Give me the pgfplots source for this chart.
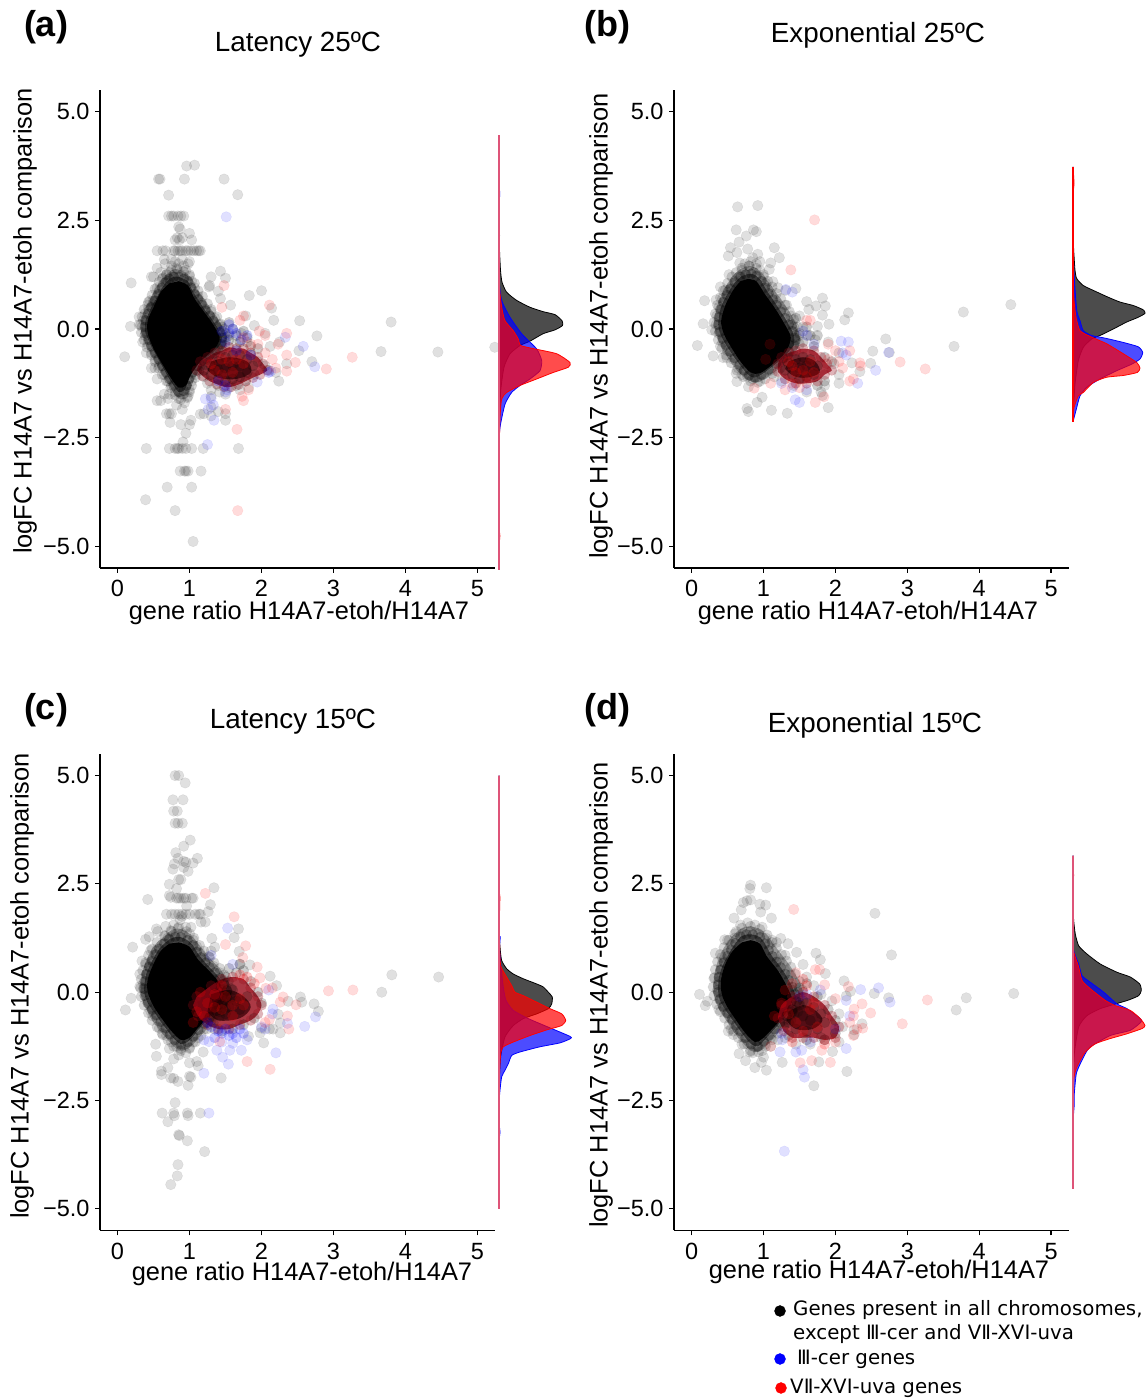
\documentclass[border=0pt]{standalone}
\usepackage{fontspec}
\setmainfont{Liberation Sans}
\newfontfamily\legfont{DejaVu Sans}
\usepackage{pgfplots}
\pgfplotsset{compat=1.18}
\definecolor{baseln}{RGB}{222,84,120}
\definecolor{clusterdark}{RGB}{58,0,6}
\definecolor{clustermid}{RGB}{150,8,22}

\pgfplotsset{
  panel/.style={
    scale only axis, anchor=south west, clip=true,
    axis x line*=bottom, axis y line*=left,
    axis line style={-, line width=1.5pt, black},
    xtick={0,1,2,3,4,5},
    ytick={-5,-2.5,0,2.5,5},
    yticklabels={−5.0,−2.5,0.0,2.5,5.0},
    xticklabels={0,1,2,3,4,5},
    minor tick num=0,
    major tick length=5pt,
    tick align=outside,
    tick style={black, line width=1.2pt},
    ymin=-5.5, ymax=5.5,
    tick label style={font=\fontsize{23.5}{26}\selectfont},
    xticklabel style={yshift=-4pt},
    yticklabel style={xshift=-2pt},
  },
  dens/.style={
    scale only axis, anchor=south west, hide axis, clip=false,
    xmin=0, xmax=80, width=80pt, ymin=-5.5, ymax=5.5,
  },
  pt/.style n args={2}{only marks, mark=*, mark size=5.3pt, #1,
    mark options={fill=#1, fill opacity=#2, draw opacity=.07, line width=.5pt}},
  blk/.style={pt={black}{.12}},
  blkm/.style={pt={black}{.2}},
  blu/.style={pt={blue}{.12}},
  blum/.style={pt={blue}{.2}},
  rd/.style={pt={red}{.14}},
  rdm/.style={pt={red}{.22}},
  ring/.style n args={3}{draw=none, fill=#1, fill opacity=#2, smooth, tension=.5,
    mark=*, mark size=5.3pt,
    mark options={draw=#1, fill=#1, fill opacity=#3, draw opacity=.05, line width=.5pt}},
  ringm/.style={ring={black}{.3}{.16}},
  ringi/.style={ring={black}{.55}{.3}},
  ringr/.style={ring={clustermid}{.8}{.3}},
  core/.style={fill=black, draw=none, smooth, tension=.5, no marks},
  redcore/.style={fill=clusterdark, fill opacity=.75, draw=none, smooth, tension=.6, no marks},
  dblack/.style={fill=black, fill opacity=.7, draw=black, line width=.8pt, smooth, tension=.35, no marks},
  dblue/.style={fill=blue, fill opacity=.7, draw=blue, line width=.8pt, smooth, tension=.35, no marks},
  dred/.style={fill=red, fill opacity=.7, draw=red, line width=.8pt, smooth, tension=.35, no marks},
  dbase/.style={baseln, line width=1.8pt, no marks},
}

\begin{document}
\begin{tikzpicture}[x=1pt,y=1pt]
\path[use as bounding box] (0,0) rectangle (1148,1398);

% ---------- (a) Latency 25
\begin{axis}[panel, at={(100pt,830pt)}, width=395pt, height=478pt, xmin=-0.243, xmax=5.243]
\addplot[blk] coordinates {(0.10,-0.64)(0.18,0.06)(0.19,1.06)(0.39,-3.93)(0.80,-4.18)(1.05,-4.89)(0.69,-3.64)(1.03,-3.64)
 (0.40,-2.75)(0.72,-2.75)(0.80,-2.75)(0.83,-2.75)(0.85,-2.75)(0.90,-2.75)(0.95,-2.75)(1.03,-2.75)(1.19,-2.75)(1.68,-2.75)
 (0.87,-3.27)(0.93,-3.27)(0.95,-3.27)(0.98,-3.27)(1.16,-3.27)(0.91,-2.6)
 (0.96,3.75)(1.07,3.77)(0.57,3.45)(0.59,3.45)(0.93,3.45)(1.48,3.45)(0.71,3.08)(1.67,3.09)
 (0.71,2.6)(0.75,2.6)(0.78,2.6)(0.84,2.6)(0.88,2.6)(0.92,2.6)(0.85,2.35)(1.0,2.2)(0.87,2.3)(0.86,2.05)(0.8,2.05)(0.9,2.1)(1.03,2.05)(0.83,2.1)
 (0.55,1.8)(0.63,1.8)(0.67,1.8)(0.78,1.8)(0.8,1.8)(0.84,1.8)(0.87,1.8)(0.9,1.8)(0.95,1.8)(0.98,1.8)(1.02,1.8)(1.06,1.8)(1.1,1.8)(1.13,1.8)(1.15,1.8)
 (0.65,1.6)(0.66,1.5)(0.75,1.6)(0.8,1.55)(0.9,1.6)(1.0,1.55)
 (1.43,1.33)(1.3,1.2)(1.5,1.17)(1.28,1.0)(1.27,0.97)(1.4,0.87)(1.43,0.7)(1.57,0.55)(1.83,0.77)(2.0,0.88)(2.14,0.48)(2.17,0.2)(2.53,0.19)(2.77,-0.16)
 (1.9,0.08)(1.78,0.3)(3.8,0.16)(3.66,-0.52)(4.45,-0.53)(5.24,-0.42)(2.05,-0.1)(2.12,-0.4)(2.25,-0.3)(2.52,-0.5)(2.7,-0.75)(2.35,-0.8)(2.24,-1.2)(2.2,-1.0)
 (1.2,-1.95)(1.15,-1.96)(1.3,-1.8)(1.4,-1.9)(1.5,-1.95)(1.3,-2.0)(1.5,-2.1)(1.02,-2.1)(1.0,-2.2)(0.88,-2.2)(0.73,-2.15)(0.95,-2.4)(0.68,-1.95)(0.72,-1.95)(0.75,-1.95)
 (0.6,-1.65)(0.55,-1.65)(0.7,-1.6)(0.65,-1.5)(0.47,-0.9)(0.55,-1.15)(0.52,-0.9)(0.4,-0.55)(0.35,-0.3)(0.3,0.28)(0.3,0.1)(0.42,0.55)(0.5,0.55)(0.45,0.65)(0.55,0.95)(0.5,1.2)(0.55,1.4)(0.6,1.3)(0.47,1.2)
 (0.62,1.15)(0.68,1.25)(0.72,1.3)(0.78,1.2)(0.82,1.4)(0.88,1.25)(0.92,1.45)(0.95,1.35)(0.98,1.5)(1.0,1.25)(1.03,1.1)(0.75,1.45)(0.7,1.1)(0.85,1.5)
 (1.07,0.95)(1.12,0.75)(1.17,0.6)(1.22,0.45)(1.3,0.4)(1.35,0.25)(1.42,0.1)(1.46,-0.05)(1.48,-0.2)(1.45,-0.4)(1.35,-0.55)(1.25,-0.7)(1.15,-0.85)(1.08,-1.05)
 (1.03,-1.2)(1.0,-1.4)(0.98,-1.55)(0.93,-1.7)(0.9,-1.85)(0.85,-1.6)(0.82,-1.75)(0.8,-1.45)(0.75,-1.3)(0.72,-1.5)(0.87,-1.45)(0.95,-1.3)(0.7,-1.2)(0.65,-1.05)
 (0.58,-0.85)(0.52,-0.7)(0.47,-0.55)(0.42,-0.35)(0.38,-0.15)(0.34,0.05)(0.36,0.2)(0.38,0.35)(0.43,0.45)(0.5,0.65)(0.55,0.75)(0.58,0.9)(0.53,0.5)(0.4,-0.05)};
\addplot[ringm] coordinates {(0.68,1.25)(0.75,1.35)(0.83,1.38)(0.92,1.32)(1.0,1.22)(1.07,1.05)(1.12,0.88)(1.18,0.75)(1.25,0.58)(1.3,0.45)(1.38,0.28)(1.43,0.12)(1.48,0)(1.52,-0.18)(1.5,-0.38)(1.42,-0.55)(1.32,-0.68)(1.22,-0.82)(1.13,-0.97)(1.08,-1.12)(1.03,-1.3)(1.0,-1.45)(0.97,-1.58)(0.88,-1.62)(0.8,-1.52)(0.74,-1.35)(0.68,-1.2)(0.62,-1.05)(0.57,-0.9)(0.52,-0.75)(0.47,-0.6)(0.41,-0.42)(0.37,-0.25)(0.33,-0.08)(0.32,0.1)(0.34,0.28)(0.37,0.45)(0.43,0.62)(0.48,0.78)(0.52,0.92)(0.58,1.08)(0.63,1.18)};
\addplot[ringi] coordinates {(0.72,1.15)(0.78,1.2)(0.85,1.2)(0.92,1.15)(0.98,1.1)(1.02,0.95)(1.07,0.8)(1.12,0.68)(1.17,0.55)(1.22,0.42)(1.28,0.3)(1.33,0.18)(1.38,0.05)(1.42,-0.08)(1.45,-0.2)(1.43,-0.35)(1.36,-0.48)(1.28,-0.6)(1.18,-0.72)(1.1,-0.85)(1.04,-1.0)(0.99,-1.15)(0.96,-1.3)(0.92,-1.42)(0.85,-1.45)(0.78,-1.3)(0.72,-1.15)(0.67,-1.0)(0.62,-0.85)(0.57,-0.7)(0.52,-0.55)(0.47,-0.4)(0.43,-0.25)(0.39,-0.1)(0.38,0.05)(0.39,0.2)(0.43,0.35)(0.47,0.5)(0.52,0.65)(0.57,0.8)(0.62,0.95)(0.67,1.07)};
\addplot[core] coordinates {(0.85,1.1)(0.98,1.0)(1.07,0.7)(1.2,0.4)(1.33,0.1)(1.42,-0.2)(1.35,-0.45)(1.15,-0.75)(1.02,-1.05)(0.95,-1.3)(0.85,-1.35)(0.75,-1.15)(0.62,-0.8)(0.5,-0.45)(0.42,-0.1)(0.42,0.2)(0.5,0.5)(0.6,0.85)(0.72,1.05)};
\addplot[blkm] coordinates {(1.45,0.05)(1.5,-0.1)(1.55,-0.25)(1.6,0)(1.65,-0.15)(1.7,-0.3)(1.75,-0.05)(1.8,-0.2)(1.45,-0.35)(1.55,0.15)(1.85,-0.4)(1.95,-0.45)(1.4,-0.45)};
\addplot[ringr] coordinates {(1.1,-0.95)(1.15,-0.75)(1.25,-0.65)(1.35,-0.55)(1.45,-0.5)(1.55,-0.42)(1.65,-0.45)(1.75,-0.45)(1.85,-0.55)(1.95,-0.65)(2.02,-0.8)(2.08,-0.95)(1.98,-1.05)(1.88,-1.12)(1.78,-1.2)(1.68,-1.28)(1.58,-1.33)(1.48,-1.33)(1.38,-1.27)(1.28,-1.2)(1.18,-1.08)};
\addplot[redcore] coordinates {(1.3,-0.75)(1.55,-0.65)(1.8,-0.75)(1.85,-1.0)(1.65,-1.15)(1.4,-1.12)(1.25,-0.95)};
\addplot[blkm] coordinates {(1.3,-0.85)(1.4,-0.75)(1.5,-0.65)(1.6,-0.6)(1.7,-0.6)(1.8,-0.7)(1.88,-0.85)(1.8,-1.0)(1.7,-1.1)(1.6,-1.15)(1.5,-1.2)(1.4,-1.15)(1.3,-1.05)(1.2,-0.95)(1.5,-0.9)(1.6,-0.85)(1.4,-0.95)(1.7,-0.85)};
\addplot[blk] coordinates {(1.45,-0.3)(1.55,-0.15)(1.65,-0.35)(1.72,-0.1)(1.8,-0.3)(1.85,-0.6)(1.95,-0.75)(2.05,-0.85)(2.1,-0.95)(1.9,-1.05)(1.78,-1.2)(1.65,-1.3)(1.55,-1.35)(1.4,-1.3)(1.25,-1.25)(1.3,-1.4)(1.42,-1.45)(1.2,-1.1)(1.1,-0.95)(1.5,-1.5)(1.3,-1.55)(1.7,-1.4)(1.82,-1.35)};
\addplot[blu] coordinates {(1.51,2.58)(2.33,-0.19)(2.58,-0.4)(2.74,-0.87)(2.13,-0.97)(1.94,-1.22)(1.22,-1.61)(1.3,-1.6)(1.26,-1.85)(1.33,-1.75)(1.34,-2.1)(1.25,-2.66)(1.5,-1.45)(1.52,-1.4)};
\addplot[blum] coordinates {(1.55,-0.1)(1.6,0.0)(1.72,-0.25)(1.8,-0.15)(1.45,-0.05)(1.65,-0.5)(1.4,-1.2)(1.85,-0.6)(2.1,-1.0)(1.5,-1.3)(1.55,0.1)(1.65,-0.1)(1.5,-0.3)};
\addplot[rd] coordinates {(1.48,1.0)(2.11,0.55)(1.45,0.5)(1.75,0.3)(1.7,0.2)(1.97,-0.05)(2.35,-0.1)(2.05,-0.15)(2.23,-0.35)(2.35,-0.6)(2.47,-0.77)(2.35,-0.97)(2.9,-0.92)(3.26,-0.65)(2.15,-0.7)(1.75,-1.65)(1.73,-1.55)(1.5,-1.85)(1.66,-2.31)(1.67,-4.18)(1.82,-1.4)(2.2,-0.9)(1.95,-0.35)(2.05,-0.55)(1.85,-0.35)(1.75,-0.2)};
\addplot[rdm] coordinates {(1.3,-0.8)(1.45,-0.7)(1.55,-0.75)(1.65,-0.7)(1.75,-0.8)(1.6,-1.0)(1.45,-1.05)(1.35,-0.95)};
\end{axis}
\begin{axis}[dens, at={(499pt,830pt)}, height=478pt]
\addplot[dblack] coordinates {(0,4.46)(0,2.4)(0.6,2.15)(0,1.95)(0.5,1.81)(1.5,1.35)(3,1.08)(7.5,0.85)(17.5,0.66)(31,0.50)(44,0.40)(56,0.33)(63,0.19)(63.5,0.08)(56,-0.02)(44,-0.11)(31,-0.28)(21,-0.38)(11,-0.57)(5,-0.88)(1.7,-1.42)(0.3,-2.19)(0,-2.80)(0,-5.54)};
\addplot[dblue] coordinates {(0,4.46)(0,3.4)(0.8,3.1)(0,2.8)(0,1.2)(2.7,0.66)(11,0.27)(22.7,-0.11)(37.7,-0.46)(42.7,-0.73)(41,-0.96)(31,-1.15)(21,-1.30)(12.7,-1.46)(6,-1.73)(1,-2.27)(0,-2.8)(0,-5.54)};
\addplot[dred] coordinates {(0,4.46)(0,1.2)(0.7,0.89)(2.7,0.50)(6,0.19)(14.3,-0.04)(19.3,-0.23)(21.7,-0.38)(36,-0.46)(57.7,-0.57)(71,-0.77)(69.3,-0.88)(54.3,-1.0)(37.7,-1.15)(21,-1.30)(7.7,-1.46)(2.7,-1.61)(1,-2.03)(0.3,-2.73)(0,-3.2)(0,-4.5)(0.9,-4.76)(0,-5.0)(0,-5.54)};
\addplot[dbase] coordinates {(0,4.46)(0,-5.54)};
\end{axis}

% ---------- (b) Exponential 25
\begin{axis}[panel, at={(674pt,830pt)}, width=394.7pt, height=478pt, xmin=-0.245, xmax=5.245]
\addplot[blk] coordinates {(0.08,-0.38)(0.16,0.12)(0.18,0.65)(0.34,0.67)(0.4,0.97)(0.3,-0.62)(0.28,-0.02)(0.44,-0.66)(0.49,-0.66)(0.64,2.81)(0.92,2.84)(0.62,2.28)(0.86,2.28)(0.9,2.24)(0.76,2.14)(0.66,2.0)(0.54,1.87)(0.78,1.84)(0.63,1.76)(0.51,1.68)(1.15,1.87)(1.22,1.64)(0.92,1.72)(0.85,1.64)(1.1,1.52)(1.08,1.37)(0.52,1.25)(0.67,1.52)(1.13,1.09)(1.45,0.93)(1.31,0.89)(1.6,0.63)(1.82,0.71)(1.86,0.53)(1.73,0.53)(1.63,0.45)(1.82,0.32)(2.18,0.37)(2.13,0.21)(1.91,0.11)(1.75,0.06)(2.7,-0.23)(2.52,-0.51)(2.75,-0.54)(3.78,0.39)(4.44,0.56)(3.65,-0.4)(5.25,-0.19)(2.23,-0.78)(2.49,-0.79)(2.34,-0.98)(2.05,-1.25)(1.9,-1.81)(1.82,-1.53)(1.33,-1.94)(1.11,-1.87)(0.77,-1.83)(0.79,-1.9)(0.91,-1.69)(0.98,-1.57)(0.79,-1.33)(0.63,-1.21)(0.62,-1.02)
 (0.6,1.1)(0.66,1.2)(0.7,1.35)(0.76,1.25)(0.8,1.45)(0.86,1.3)(0.9,1.5)(0.95,1.35)(1.0,1.2)(1.03,1.05)(0.74,1.5)(0.68,1.1)(0.82,1.55)(0.95,1.55)
 (1.06,0.9)(1.12,0.75)(1.2,0.95)(1.18,0.6)(1.25,0.45)(1.32,0.55)(1.38,0.3)(1.42,0.05)(1.45,-0.15)(1.42,-0.35)(1.33,-0.6)(1.2,-0.75)(1.1,-0.95)(1.0,-1.05)
 (0.95,-1.2)(0.85,-1.15)(0.78,-1.1)(0.7,-1.05)(0.65,-0.9)(0.58,-0.7)(0.5,-0.5)(0.43,-0.3)(0.38,-0.1)(0.34,0.1)(0.35,0.3)(0.38,0.5)(0.43,0.7)(0.5,0.85)(0.55,0.95)(0.45,0.4)(0.4,-0.4)(0.47,0.9)
 (1.5,0.3)(1.55,0.05)(1.62,-0.15)(1.72,-0.25)(1.9,-0.3)(2.05,-0.55)(1.98,-0.8)(2.05,-1.05)(1.85,-1.3)(1.8,-1.45)(1.6,-1.45)(1.42,-1.3)(1.25,-1.2)(1.15,-1.1)};
\addplot[ringm] coordinates {(0.62,1.3)(0.7,1.4)(0.8,1.45)(0.9,1.4)(1.0,1.25)(1.06,1.1)(1.12,0.97)(1.18,0.82)(1.24,0.7)(1.3,0.55)(1.36,0.4)(1.42,0.22)(1.47,0.05)(1.5,-0.15)(1.5,-0.35)(1.42,-0.6)(1.33,-0.75)(1.23,-0.9)(1.12,-1.03)(1.02,-1.15)(0.92,-1.23)(0.82,-1.2)(0.72,-1.1)(0.63,-0.95)(0.55,-0.78)(0.48,-0.6)(0.42,-0.45)(0.37,-0.25)(0.33,-0.05)(0.31,0.15)(0.33,0.35)(0.36,0.55)(0.4,0.72)(0.44,0.88)(0.5,1.05)(0.56,1.2)};
\addplot[ringi] coordinates {(0.68,1.2)(0.75,1.25)(0.83,1.27)(0.9,1.22)(0.97,1.1)(1.02,0.95)(1.07,0.82)(1.13,0.68)(1.18,0.55)(1.24,0.4)(1.3,0.25)(1.35,0.1)(1.4,-0.05)(1.43,-0.2)(1.42,-0.38)(1.35,-0.52)(1.27,-0.67)(1.17,-0.8)(1.07,-0.93)(0.97,-1.05)(0.88,-1.12)(0.8,-1.07)(0.73,-0.95)(0.67,-0.82)(0.6,-0.67)(0.54,-0.52)(0.48,-0.37)(0.43,-0.22)(0.39,-0.07)(0.37,0.1)(0.38,0.27)(0.4,0.45)(0.44,0.62)(0.49,0.78)(0.54,0.92)(0.6,1.07)};
\addplot[core] coordinates {(0.78,1.15)(0.9,1.1)(1.02,0.8)(1.15,0.5)(1.28,0.15)(1.38,-0.2)(1.3,-0.55)(1.12,-0.82)(0.95,-1.02)(0.82,-1.0)(0.68,-0.75)(0.55,-0.42)(0.45,-0.12)(0.41,0.18)(0.47,0.55)(0.58,0.9)(0.68,1.1)};
\addplot[blkm] coordinates {(1.45,-0.25)(1.5,-0.1)(1.55,-0.3)(1.6,0.05)(1.65,-0.15)(1.7,-0.4)(1.75,-0.15)(1.4,0.1)(1.45,0.25)(1.35,-0.35)(1.85,-0.65)(1.95,-0.75)(1.85,-1.2)(1.75,-1.3)};
\addplot[ringr] coordinates {(1.2,-0.8)(1.25,-0.65)(1.35,-0.55)(1.45,-0.5)(1.55,-0.45)(1.7,-0.5)(1.8,-0.65)(1.88,-0.8)(1.95,-0.95)(1.85,-1.05)(1.75,-1.2)(1.6,-1.25)(1.45,-1.25)(1.3,-1.15)(1.2,-0.98)};
\addplot[redcore] coordinates {(1.35,-0.75)(1.55,-0.65)(1.72,-0.75)(1.78,-1.0)(1.6,-1.12)(1.42,-1.08)(1.3,-0.92)};
\addplot[blkm] coordinates {(1.35,-0.8)(1.45,-0.7)(1.55,-0.65)(1.65,-0.7)(1.75,-0.85)(1.7,-1.05)(1.6,-1.1)(1.5,-1.15)(1.4,-1.05)(1.3,-0.95)(1.5,-0.9)(1.6,-0.85)};
\addplot[blu] coordinates {(1.31,0.91)(2.74,-0.54)(2.56,-0.95)(1.44,-1.63)(1.5,-1.69)(2.08,-0.28)(2.18,-0.3)(2.31,-1.25)(1.25,-1.25)(1.6,-0.15)(1.55,-0.05)(1.7,-0.35)(2.1,-0.55)(1.4,-1.35)(1.6,-1.4)(2.15,-0.6)(1.4,0.85)};
\addplot[rd] coordinates {(1.71,2.51)(1.38,1.36)(2.9,-0.76)(3.25,-0.92)(2.34,-0.78)(0.87,-1.36)(1.72,-1.69)(1.84,-1.56)(1.6,0.2)(1.65,0.2)(1.09,-0.35)(1.03,-0.7)(1.9,-0.35)(2.0,-0.5)(2.2,-0.5)(2.35,-0.85)(2.25,-1.15)(2.2,-1.2)(1.1,-1.25)(1.4,-1.25)(1.3,-1.4)(1.5,-1.35)(2.05,-0.75)(2.1,-0.9)(1.9,-0.7)};
\addplot[rdm] coordinates {(1.4,-0.85)(1.55,-0.95)(1.65,-0.75)(1.7,-1.0)(1.45,-1.0)(1.35,-0.75)(1.6,-1.1)};
\end{axis}
\begin{axis}[dens, at={(1073pt,830pt)}, height=478pt]
\addplot[dblack] coordinates {(0,3.73)(0,2.2)(0.7,1.81)(2,1.35)(3.7,1.16)(10.3,1.0)(22,0.87)(35.3,0.73)(47,0.62)(60.3,0.54)(70.3,0.44)(72,0.36)(65.3,0.27)(53.7,0.16)(40.3,0.0)(27,-0.15)(18.7,-0.23)(10.3,-0.42)(5.3,-0.73)(2,-1.27)(0.3,-1.88)(0,-2.13)};
\addplot[dblue] coordinates {(0,3.73)(0,1.9)(0.6,1.5)(1,1.27)(3.7,0.43)(7,0.19)(10.3,-0.04)(18.7,-0.15)(32,-0.21)(50.3,-0.31)(65.3,-0.41)(69.7,-0.54)(67,-0.69)(58.7,-0.81)(43.7,-0.96)(27,-1.15)(13.7,-1.34)(7,-1.54)(3.7,-1.81)(0.3,-2.11)(0,-2.13)};
\addplot[dred] coordinates {(0,3.73)(1,3.35)(0,3.0)(0,1.2)(1,0.66)(3,0.27)(7,-0.04)(17,-0.17)(33.7,-0.34)(50.3,-0.57)(63.7,-0.77)(67,-0.9)(64.3,-1.0)(50.3,-1.07)(33.7,-1.11)(20.3,-1.23)(10.3,-1.46)(5.3,-1.54)(1,-1.81)(0,-2.13)};
\addplot[red, line width=1.4pt, no marks] coordinates {(0,3.73)(0,-2.13)};
\end{axis}

% ---------- (c) Latency 15
\begin{axis}[panel, at={(100pt,167.5pt)}, width=395pt, height=476.6pt, xmin=-0.243, xmax=5.243]
\addplot[blk] coordinates {(0.11,-0.41)(0.19,-0.14)(0.21,1.04)(0.42,2.14)(0.74,-4.44)(0.83,-4.24)(0.84,-3.98)(1.21,-3.68)(0.97,-3.43)(0.85,-3.29)(0.86,-3.31)(0.7,-2.99)(0.62,-2.79)(0.78,-2.79)(0.79,-2.85)(0.8,-2.55)(0.97,-2.79)(0.98,-2.85)(1.15,-2.79)(0.98,-2.15)(0.84,-2.06)(0.74,-1.98)(0.78,-1.99)(1.0,-1.94)(1.02,-1.96)(0.61,-1.9)(0.61,-1.82)(0.7,-1.74)(0.54,-1.48)(0.53,-1.2)(0.63,-0.98)(0.78,-1.54)(1.0,-1.63)(1.1,-1.6)(1.12,-1.7)(1.19,-1.38)(1.44,-1.98)(2.03,-1.17)(2.26,-0.94)(1.82,-1.02)(1.98,-0.94)
 (0.8,5.0)(0.85,5.0)(0.94,4.83)(0.77,4.44)(0.91,4.44)(0.78,4.18)(0.83,4.18)(0.8,3.9)(0.84,3.9)(0.9,3.9)(1.01,3.51)(0.92,3.37)(0.81,3.22)(1.11,3.09)(0.84,3.09)(0.92,3.02)(0.95,3.0)(1.05,2.98)(0.79,2.96)(0.92,2.88)(0.77,2.84)(0.98,2.79)(0.85,2.6)(0.88,2.6)(0.72,2.49)(0.82,2.39)(1.34,2.41)(0.72,2.23)(0.74,2.19)
 (0.82,2.17)(0.85,2.17)(0.88,2.17)(0.92,2.17)(0.95,2.17)(1.03,2.17)(1.05,2.17)(1.29,2.02)(0.96,1.99)(1.26,1.86)(0.68,1.8)(0.75,1.8)(0.8,1.8)(0.85,1.8)(0.9,1.8)(0.95,1.8)(1.0,1.8)(1.08,1.8)(1.13,1.8)(1.15,1.8)(1.16,1.62)(1.22,1.62)(0.89,1.75)(0.87,1.67)(0.54,1.46)(0.67,1.52)(0.56,1.4)(0.44,1.28)(0.39,1.22)(1.68,1.46)(1.62,1.26)(1.31,1.24)(1.35,1.04)(1.69,0.94)(1.3,0.95)
 (2.12,0.37)(2.21,0.15)(1.84,0.63)(1.7,0.64)(2.54,-0.11)(2.56,-0.23)(2.37,-0.21)(2.73,-0.27)(2.79,-0.44)(3.81,0.4)(4.46,0.35)(3.67,0)(5.26,-0.14)(2.23,-0.51)(2.26,-0.71)(2.11,-0.85)(2.0,-0.83)(2.16,-0.85)
 (0.31,0.42)(0.31,0.13)(0.36,0.09)(0.34,0.72)(0.46,0.96)(0.39,0.64)(0.46,-0.43)(0.49,-0.55)(0.58,-0.83)
 (0.62,1.1)(0.7,1.25)(0.75,1.4)(0.8,1.3)(0.85,1.5)(0.9,1.35)(0.95,1.5)(1.0,1.35)(1.05,1.2)(1.1,1.05)(0.65,1.3)(1.02,1.5)(0.78,1.55)
 (1.15,0.9)(1.2,0.75)(1.28,0.8)(1.33,0.6)(1.42,0.45)(1.48,0.25)(1.52,0.05)(1.5,-0.2)(1.42,-0.45)(1.3,-0.65)(1.2,-0.85)(1.12,-1.05)
 (1.05,-1.15)(1.0,-1.3)(0.95,-1.4)(0.88,-1.3)(0.82,-1.25)(0.75,-1.15)(0.72,-1.3)(0.85,-1.45)(0.93,-1.25)(0.68,-1.0)(0.62,-0.8)
 (0.55,-0.6)(0.48,-0.35)(0.42,-0.2)(0.38,0.0)(0.36,0.2)(0.4,0.4)(0.44,0.6)(0.48,0.75)(0.54,0.95)};
\addplot[ringm] coordinates {(0.66,1.3)(0.74,1.42)(0.84,1.47)(0.96,1.4)(1.06,1.25)(1.14,1.08)(1.2,0.95)(1.27,0.82)(1.34,0.68)(1.42,0.55)(1.48,0.4)(1.54,0.25)(1.58,0.08)(1.58,-0.12)(1.5,-0.38)(1.42,-0.55)(1.33,-0.7)(1.24,-0.85)(1.16,-1.0)(1.08,-1.15)(1.0,-1.28)(0.88,-1.35)(0.78,-1.25)(0.7,-1.1)(0.62,-0.95)(0.55,-0.8)(0.48,-0.65)(0.43,-0.48)(0.37,-0.3)(0.33,-0.1)(0.32,0.1)(0.33,0.3)(0.35,0.5)(0.39,0.68)(0.43,0.85)(0.48,1.0)(0.55,1.15)};
\addplot[ringi] coordinates {(0.72,1.22)(0.8,1.27)(0.88,1.27)(0.97,1.2)(1.05,1.08)(1.1,0.93)(1.16,0.8)(1.22,0.68)(1.28,0.57)(1.35,0.45)(1.42,0.32)(1.48,0.18)(1.52,0.03)(1.52,-0.12)(1.45,-0.28)(1.37,-0.43)(1.28,-0.58)(1.2,-0.72)(1.12,-0.87)(1.05,-1.02)(0.97,-1.15)(0.88,-1.2)(0.8,-1.1)(0.73,-0.97)(0.67,-0.83)(0.6,-0.68)(0.54,-0.53)(0.48,-0.4)(0.42,-0.25)(0.38,-0.08)(0.37,0.08)(0.38,0.25)(0.4,0.42)(0.44,0.58)(0.48,0.72)(0.53,0.87)(0.58,1.0)(0.65,1.12)};
\addplot[core] coordinates {(0.85,1.15)(1.0,1.05)(1.12,0.75)(1.28,0.48)(1.42,0.2)(1.48,-0.1)(1.3,-0.5)(1.12,-0.82)(1.0,-1.05)(0.88,-1.1)(0.75,-0.9)(0.62,-0.62)(0.5,-0.32)(0.42,0)(0.42,0.3)(0.5,0.65)(0.6,0.95)(0.72,1.12)};
\addplot[blkm] coordinates {(1.5,0.35)(1.65,0.45)(1.75,0.5)(1.85,0.25)(1.95,0)(2.0,-0.25)(1.9,-0.6)(1.75,-0.75)(1.6,-0.85)(1.45,-0.9)(1.35,-0.85)(1.25,-0.7)(1.35,0.15)(1.3,0.3)(1.55,0.55)(1.7,0.65)};
\addplot[ringr] coordinates {(1.1,-0.1)(1.3,0.15)(1.45,0.3)(1.6,0.35)(1.75,0.3)(1.85,0.1)(1.95,-0.1)(2.0,-0.3)(1.95,-0.5)(1.85,-0.65)(1.7,-0.75)(1.55,-0.85)(1.4,-0.85)(1.25,-0.75)(1.12,-0.55)(1.05,-0.3)};
\addplot[redcore] coordinates {(1.3,-0.05)(1.55,0.05)(1.75,-0.1)(1.85,-0.35)(1.7,-0.6)(1.4,-0.65)(1.25,-0.45)};
\addplot[blkm] coordinates {(1.55,-0.35)(1.65,-0.2)(1.7,-0.4)(1.4,-0.3)(1.6,0.05)(1.8,-0.1)(1.5,-0.5)};
\addplot[blu] coordinates {(1.53,1.48)(1.6,0.64)(1.27,-2.79)(1.2,-1.87)(1.54,-1.66)(1.46,-1.5)(1.56,-1.34)(1.72,-1.34)(1.38,-1.34)(2.2,-1.4)(2.6,-0.79)(2.75,-0.57)(2.36,-0.72)(2.16,-0.39)(1.27,-1.14)(1.6,-1.18)(1.3,0.85)(2.15,-0.5)(2.1,0.05)(1.2,-1.1)(1.8,-1.1)(1.45,-1.15)(2.0,-0.8)(2.05,-0.85)};
\addplot[blum] coordinates {(1.25,-0.7)(1.3,-0.8)(1.4,-0.9)(1.45,-0.95)(1.5,-0.85)(1.55,-1.0)(1.6,-0.95)(1.7,-0.85)(1.75,-0.95)(1.65,-1.05)(1.35,-1.05)};
\addplot[rd] coordinates {(1.22,2.28)(1.62,1.74)(1.5,1.1)(1.78,1.07)(1.74,0.8)(1.94,0.58)(1.98,0.33)(2.06,0.09)(2.93,0.03)(3.27,0.05)(2.3,-0.11)(2.26,-0.23)(2.48,-0.29)(2.36,-0.55)(2.38,-0.85)(2.11,-0.63)(1.8,-1.6)(2.12,-1.78)(1.42,-1.14)(2.15,0.1)(2.05,-0.7)};
\addplot[rdm] coordinates {(1.15,0)(1.25,-0.25)(1.1,-0.45)(1.05,-0.7)(1.2,-0.55)(1.35,-0.05)(1.45,0.15)(1.9,0.2)(1.8,0.35)(1.7,0.4)(1.45,-0.4)(1.6,-0.3)(1.5,-0.1)(1.7,-0.15)(1.35,-0.35)(1.6,-0.55)(1.75,-0.3)};
\end{axis}
\begin{axis}[dens, at={(499pt,167.5pt)}, height=476.6pt]
\addplot[dblack] coordinates {(0,5)(0,1.6)(1,1.04)(2.7,0.73)(7.7,0.54)(14.3,0.42)(24.3,0.31)(37.7,0.19)(44.3,0.12)(49.3,0.0)(53.3,-0.11)(52.7,-0.27)(49.3,-0.38)(37.7,-0.5)(24.3,-0.61)(14.3,-0.77)(6,-1.03)(1.7,-1.49)(0.3,-2.03)(0,-2.41)(0,-5)};
\addplot[dblue] coordinates {(0,5)(0,1.5)(1.2,1.28)(0.5,1.0)(1.7,0.65)(4.3,0.12)(7,-0.19)(14.3,-0.42)(29.3,-0.61)(52.7,-0.84)(71,-1.02)(71.7,-1.07)(61,-1.17)(41,-1.26)(21,-1.38)(12.7,-1.46)(9.3,-1.65)(6,-1.8)(2.7,-1.95)(1,-2.26)(0,-2.57)(0,-3.0)(1,-3.24)(0,-3.5)(0,-5)};
\addplot[dred] coordinates {(0,5)(0,2.5)(0.9,2.2)(0.3,1.6)(0.6,1.1)(1.7,0.61)(7.7,0.35)(12.7,0.15)(16,0)(24.3,-0.08)(37.7,-0.23)(51,-0.38)(62.7,-0.5)(66.7,-0.65)(62.7,-0.77)(47.7,-0.87)(31,-1.0)(14.3,-1.15)(4.3,-1.26)(1.7,-1.42)(0.3,-2.03)(0,-2.57)(0,-5)};
\addplot[dbase] coordinates {(0,5)(0,-5)};
\end{axis}

% ---------- (d) Exponential 15
\begin{axis}[panel, at={(674pt,167.5pt)}, width=394.7pt, height=476.6pt, xmin=-0.245, xmax=5.245]
\addplot[blk] coordinates {(0.11,-0.05)(0.22,-0.21)(0.19,-0.31)(0.38,-0.4)(0.33,0.9)(0.32,0.34)(0.82,2.47)(0.81,2.39)(1.04,2.41)(0.72,2.07)(0.82,2.13)(0.77,2.11)(0.95,2.03)(1.03,2.01)(0.69,1.9)(0.96,1.85)(0.59,1.71)(1.11,1.71)(2.55,1.82)(2.78,0.86)(1.73,0.9)(1.79,0.75)(1.46,0.92)(1.34,1.12)(1.24,1.24)(0.46,1.21)(1.86,0.43)(1.55,0.64)(2.12,0.26)(2.21,0.02)(2.15,-0.09)(2.54,-0.03)(2.74,-0.13)(3.82,-0.13)(4.48,-0.03)(3.68,-0.41)(5.27,0.05)(2.37,-0.73)(2.26,-0.87)(2.26,-0.98)(2.16,-1.83)(1.96,-1.37)(1.7,-2.16)(1.77,-1.61)(1.26,-1.62)(1.04,-1.8)(0.88,-1.74)(0.97,-1.62)(0.75,-1.58)(0.66,-1.42)(0.81,-1.38)(1.0,-1.5)(0.51,-0.9)(0.58,-0.98)
 (0.5,1.2)(0.55,1.1)(0.62,1.4)(0.68,1.55)(0.72,1.35)(0.78,1.6)(0.82,1.4)(0.88,1.55)(0.93,1.35)(0.98,1.5)(1.03,1.25)(1.08,1.1)(1.12,1.2)(1.18,1.15)(0.6,1.25)
 (1.15,0.8)(1.22,0.7)(1.3,0.85)(1.3,0.5)(1.38,0.4)(1.45,0.2)(1.48,0)(1.5,-0.25)(1.42,-0.5)(1.3,-0.7)(1.18,-0.85)(1.1,-1.05)
 (1.02,-1.2)(0.98,-1.35)(0.9,-1.25)(0.85,-1.4)(0.78,-1.2)(0.72,-1.05)(0.7,-1.2)(0.65,-0.85)(0.58,-0.65)(0.52,-0.5)(0.45,-0.35)(0.4,-0.15)(0.36,0.05)(0.38,0.25)(0.4,0.5)(0.45,0.7)(0.5,0.9)(0.42,0.8)(0.55,-0.85)
 (1.6,0.35)(1.7,0.15)(1.8,-0.05)(1.95,-0.2)(2.05,-0.5)(2.1,-0.8)(2.05,-1.15)(1.8,-1.05)(1.65,-1.2)(1.45,-1.2)(1.3,-1.05)(1.2,-1.1)(1.1,-1.25)};
\addplot[ringm] coordinates {(0.6,1.35)(0.7,1.48)(0.82,1.52)(0.95,1.45)(1.05,1.32)(1.12,1.15)(1.18,1.02)(1.25,0.87)(1.32,0.72)(1.38,0.58)(1.44,0.42)(1.5,0.25)(1.54,0.05)(1.55,-0.2)(1.48,-0.45)(1.38,-0.65)(1.28,-0.8)(1.2,-0.95)(1.12,-1.1)(1.03,-1.25)(0.93,-1.38)(0.82,-1.35)(0.73,-1.2)(0.65,-1.05)(0.58,-0.9)(0.52,-0.75)(0.46,-0.6)(0.4,-0.45)(0.35,-0.28)(0.31,-0.08)(0.3,0.12)(0.31,0.32)(0.33,0.52)(0.36,0.7)(0.4,0.87)(0.45,1.03)(0.52,1.2)};
\addplot[ringi] coordinates {(0.68,1.28)(0.76,1.33)(0.85,1.33)(0.95,1.27)(1.02,1.12)(1.07,0.97)(1.12,0.83)(1.18,0.7)(1.24,0.57)(1.3,0.42)(1.35,0.28)(1.4,0.12)(1.44,-0.05)(1.46,-0.22)(1.4,-0.4)(1.32,-0.55)(1.23,-0.7)(1.15,-0.85)(1.07,-1.0)(1.0,-1.13)(0.92,-1.25)(0.83,-1.2)(0.75,-1.05)(0.68,-0.9)(0.62,-0.76)(0.56,-0.62)(0.5,-0.48)(0.44,-0.33)(0.39,-0.17)(0.37,0)(0.37,0.17)(0.38,0.35)(0.41,0.52)(0.45,0.68)(0.5,0.83)(0.55,0.98)(0.61,1.13)};
\addplot[core] coordinates {(0.82,1.2)(0.95,1.12)(1.05,0.82)(1.2,0.5)(1.32,0.15)(1.4,-0.2)(1.28,-0.55)(1.12,-0.85)(0.98,-1.08)(0.88,-1.15)(0.75,-0.95)(0.62,-0.65)(0.5,-0.35)(0.42,-0.05)(0.41,0.3)(0.47,0.65)(0.57,0.95)(0.7,1.15)};
\addplot[blkm] coordinates {(1.5,0.1)(1.6,0.2)(1.4,0.05)(1.75,-0.1)(1.85,-1.1)(1.6,-1.1)(1.35,-1.0)(1.9,-0.4)(2.0,-0.65)(2.0,-0.95)};
\addplot[ringr] coordinates {(1.2,-0.6)(1.25,-0.3)(1.4,-0.1)(1.55,0)(1.7,-0.1)(1.85,-0.3)(1.95,-0.55)(2.05,-0.8)(2.0,-1.05)(1.85,-1.1)(1.7,-1.05)(1.55,-1.05)(1.4,-1.05)(1.28,-0.9)};
\addplot[redcore] coordinates {(1.35,-0.45)(1.55,-0.3)(1.72,-0.42)(1.82,-0.65)(1.68,-0.85)(1.45,-0.85)(1.32,-0.65)};
\addplot[blkm] coordinates {(1.4,-0.45)(1.5,-0.3)(1.6,-0.25)(1.7,-0.35)(1.8,-0.5)(1.85,-0.7)(1.75,-0.85)(1.6,-0.9)(1.45,-0.85)(1.35,-0.7)(1.55,-0.55)(1.65,-0.65)};
\addplot[blu] coordinates {(1.29,-3.67)(2.35,0.06)(2.6,0.1)(2.76,-0.23)(2.15,-0.19)(2.2,-0.55)(2.15,-1.3)(1.57,-1.96)(1.55,-1.79)(1.45,-1.38)(1.53,-1.34)(1.23,-1.38)(1.26,-1.1)(1.79,0.05)(1.5,-0.1)(1.6,-0.05)(1.25,-0.95)(1.65,-1.15)(2.0,-0.85)};
\addplot[rd] coordinates {(1.42,1.91)(1.72,0.52)(2.18,0.13)(3.28,-0.18)(2.93,-0.73)(2.37,-0.27)(2.49,-0.48)(2.26,-0.39)(2.38,-0.83)(1.93,-1.62)(1.67,-1.58)(1.51,-1.63)(1.81,-1.34)(1.85,0.17)(1.78,0.52)(1.45,0.45)(2.2,-0.7)(2.25,-0.55)(2.3,-0.85)(2.0,-1.15)(1.1,-1.25)(2.25,-1.0)(2.0,-0.15)};
\addplot[rdm] coordinates {(1.55,0.3)(1.4,0.2)(1.15,-0.55)(1.25,-0.25)(1.3,0.05)(1.6,0.15)(1.45,-0.7)(1.55,-0.9)(1.65,-0.4)(1.75,-0.8)(1.35,-0.5)(1.7,-0.25)(1.85,-1.2)(1.4,-1.15)};
\end{axis}
\begin{axis}[dens, at={(1073pt,167.5pt)}, height=476.6pt]
\addplot[dblack] coordinates {(0,3.15)(0,2.0)(0.7,1.65)(2.3,1.34)(5.7,1.07)(14,0.88)(27.3,0.65)(44,0.46)(57.3,0.35)(66.7,0.19)(68.3,0.04)(65.7,-0.08)(55.7,-0.18)(45.7,-0.25)(27.3,-0.38)(14,-0.54)(5.7,-0.8)(1.3,-1.42)(0.3,-2.03)(0,-2.41)(0,-4.54)};
\addplot[dblue] coordinates {(0,3.15)(0,1.4)(0.7,0.96)(5.7,0.65)(9,0.38)(17.3,0.23)(30.7,0)(44,-0.27)(54,-0.38)(67.3,-0.61)(68,-0.69)(57.3,-0.88)(37.3,-1.0)(17.3,-1.26)(12.3,-1.42)(7.3,-1.65)(3.3,-1.88)(1.3,-2.34)(1.1,-2.64)(0.3,-2.95)(0.4,-4.2)(0,-4.54)};
\addplot[dred] coordinates {(0,3.15)(0.6,2.7)(0,2.2)(0,1.11)(1.3,0.88)(5.7,0.58)(9,0.27)(17.3,0.08)(32.3,-0.19)(42.3,-0.31)(57.3,-0.42)(67.3,-0.61)(72,-0.77)(69,-0.84)(54,-0.96)(37.3,-1.07)(22.3,-1.19)(12.3,-1.38)(7.3,-1.57)(3.3,-1.76)(0.7,-2.03)(0,-2.95)(0,-4.54)};
\addplot[dbase] coordinates {(0,3.15)(0,-4.54)};
\end{axis}

% ---------- text
\begingroup
\fontsize{27.8}{30}\selectfont
\node at (298,1353) {Latency 25ºC};
\node at (878,1363) {Exponential 25ºC};
\node at (293,676) {Latency 15ºC};
\node at (875,673) {Exponential 15ºC};
\endgroup
\begingroup
\fontsize{25.4}{30}\selectfont
\node at (299,785) {gene ratio H14A7-etoh/H14A7};
\node at (868,785) {gene ratio H14A7-etoh/H14A7};
\node at (302,124) {gene ratio H14A7-etoh/H14A7};
\node at (879,126) {gene ratio H14A7-etoh/H14A7};
\node[rotate=90] at (25,1077) {logFC H14A7 vs H14A7-etoh comparison};
\node[rotate=90] at (601,1072) {logFC H14A7 vs H14A7-etoh comparison};
\node[rotate=90] at (22,412) {logFC H14A7 vs H14A7-etoh comparison};
\node[rotate=90] at (601,403) {logFC H14A7 vs H14A7-etoh comparison};
\endgroup
\begingroup
\fontsize{36}{38}\selectfont\bfseries
\node at (46,1371) {(a)};
\node at (607,1371) {(b)};
\node at (46,688) {(c)};
\node at (607,688) {(d)};
\endgroup
\begingroup
\fontsize{19.8}{24}\selectfont\legfont
\node[anchor=base west, inner sep=0pt] at (793,82) {Genes present in all chromosomes,};
\node[anchor=base west, inner sep=0pt] at (793,58) {except Ⅲ-cer and VⅡ-XVI-uva};
\node[anchor=base west, inner sep=0pt] at (797,33) {Ⅲ-cer genes};
\node[anchor=base west, inner sep=0pt] at (790,5) {VⅡ-XVI-uva genes};
\endgroup
% legend keys, in an axis of their own with picture pixels as units
\begin{axis}[at={(760pt,0pt)}, anchor=south west, scale only axis, hide axis, width=40pt, height=100pt, xmin=760, xmax=800, ymin=0, ymax=100, clip=false]
\addplot[only marks, mark=*, mark size=5.5pt, black] coordinates {(780,87)};
\addplot[only marks, mark=*, mark size=5.5pt, blue] coordinates {(780,39)};
\addplot[only marks, mark=*, mark size=5.5pt, red] coordinates {(781,10)};
\end{axis}
\end{tikzpicture}
\end{document}
